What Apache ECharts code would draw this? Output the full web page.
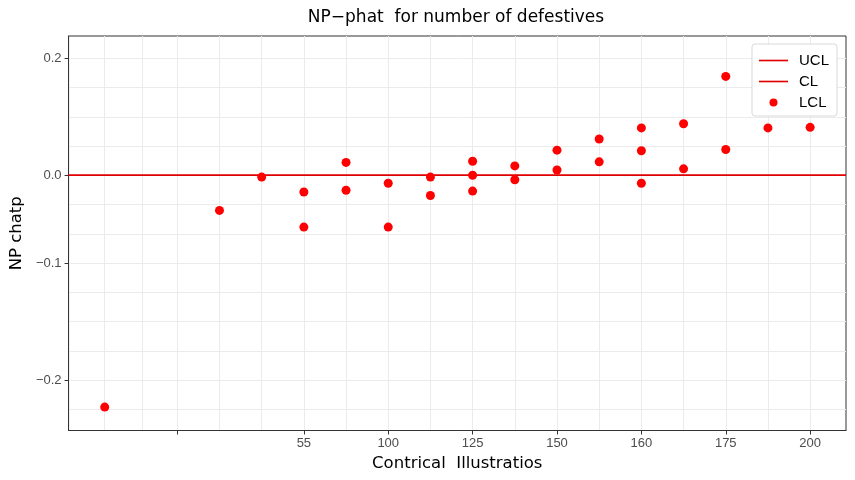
<!DOCTYPE html>
<html>
<head>
<meta charset="utf-8">
<script src="https://cdn.jsdelivr.net/npm/echarts@6/dist/echarts.min.js"></script>
<style>
html, body { margin: 0; padding: 0; background: #fff; }
#chart { width: 855px; height: 480px; }
</style>
</head>
<body>
<div id="chart"></div>
<script>
// sample position on the x scale (ordinal, tick labels below) and the plotted LCL points
var sampleAt = [-2.72, 0, 1, 2, 2, 3, 3, 4, 4, 5, 5, 6, 6, 6, 7, 7, 8, 8, 9, 9, 10, 10, 10, 11, 11, 12, 12, 13, 14];
var lclValues = [-0.223, -0.040, -0.002, -0.019, -0.059, 0.022, -0.017, -0.009, -0.059, -0.002, -0.023,
    0.024, 0.000, -0.018, 0.016, -0.005, 0.043, 0.009, 0.062, 0.023, 0.081, 0.042, -0.009,
    0.088, 0.011, 0.169, 0.044, 0.081, 0.082];
var uclValue = 0;
var clValue = 0;

var xTickAt = [-1, 2, 4, 6, 8, 10, 12, 14];
var xTickLabels = ['', '55', '100', '125', '150', '160', '175', '200'];
var xGridAt = [-2.72, -1.82, -1, 0, 1, 2, 3, 4, 5, 6, 7, 8, 9, 10, 11, 12, 13, 14];

var yTickValues = [0.2, 0, -0.1, -0.2];
var yTickLabels = ['0.2', '0.0', '\u22120.1', '\u22120.2'];

var xMin = -3.577, xMax = 14.85;
var yMin = -8.72, yMax = 4.76;

// the y axis of the picture is not evenly spaced: piecewise scale
function toAxisY(v) {
    if (v >= 0) return v * 20;
    if (v >= -0.1) return v * 30;
    return -3 + (v + 0.1) * 40;
}

var yTickAt = yTickValues.map(toAxisY);
var yGridAt = [];
for (var g = -8; g <= 4; g++) yGridAt.push(g);

function nearestLabel(v, at, labels) {
    for (var i = 0; i < at.length; i++) {
        if (Math.abs(at[i] - v) < 1e-6) return labels[i];
    }
    return '';
}

var font = 'Liberation Sans';
var titleFont = 'DejaVu Sans';
var lineIcon = 'path://M0,0L30,0L30,1.7L0,1.7Z';
var myChart = echarts.init(document.getElementById('chart'));

var option = {
    animation: false,
    backgroundColor: '#fff',
    title: {
        text: 'NP\u2212phat  for number of defestives',
        left: 456,
        top: 9,
        textAlign: 'center',
        padding: 0,
        textStyle: { fontFamily: titleFont, fontSize: 17, fontWeight: 'normal', color: '#000' }
    },
    legend: {
        orient: 'vertical',
        right: 18,
        top: 44,
        padding: [9, 8, 6, 7],
        itemWidth: 29,
        itemHeight: 8,
        itemGap: 6,
        backgroundColor: '#fff',
        borderColor: '#d9d9d9',
        borderWidth: 1,
        borderRadius: 3,
        data: [
            { name: 'UCL', icon: lineIcon },
            { name: 'CL', icon: lineIcon },
            { name: 'LCL', icon: 'circle' }
        ],
        textStyle: { fontFamily: font, fontSize: 15, color: '#000', lineHeight: 15, padding: [0, 0, 0, 6] }
    },
    grid: {
        left: 65.5,
        right: 9,
        top: 36,
        bottom: 49.5,
        show: true,
        borderColor: '#333',
        borderWidth: 1,
        backgroundColor: 'transparent'
    },
    xAxis: [{
        type: 'value',
        min: xMin,
        max: xMax,
        name: 'Contrical  Illustratios',
        nameLocation: 'middle',
        nameGap: 25,
        nameTextStyle: { fontFamily: titleFont, fontSize: 16.5, color: '#000' },
        axisLine: { show: true, onZero: false, lineStyle: { color: '#333' } },
        axisTick: { show: true, length: 4, customValues: xTickAt, lineStyle: { color: '#333' } },
        axisLabel: {
            customValues: xTickAt,
            margin: 6,
            fontFamily: font,
            fontSize: 13,
            color: '#4d4d4d',
            formatter: function (v) { return nearestLabel(v, xTickAt, xTickLabels); }
        },
        splitLine: { show: false }
    }, {
        type: 'value',
        min: xMin,
        max: xMax,
        position: 'bottom',
        axisLine: { show: false },
        axisTick: { show: false, customValues: xGridAt },
        axisLabel: { show: false, customValues: xGridAt },
        splitLine: { show: true, lineStyle: { color: '#ebebeb', width: 1 } }
    }],
    yAxis: [{
        type: 'value',
        min: yMin,
        max: yMax,
        name: 'NP chatp',
        nameLocation: 'middle',
        nameGap: 32,
        nameTextStyle: { fontFamily: titleFont, fontSize: 16.5, color: '#000' },
        axisLine: { show: true, onZero: false, lineStyle: { color: '#333' } },
        axisTick: { show: true, length: 4, customValues: yTickAt, lineStyle: { color: '#333' } },
        axisLabel: {
            customValues: yTickAt,
            margin: 7,
            fontFamily: font,
            fontSize: 13,
            color: '#4d4d4d',
            formatter: function (v) { return nearestLabel(v, yTickAt, yTickLabels); }
        },
        splitLine: { show: false }
    }, {
        type: 'value',
        min: yMin,
        max: yMax,
        position: 'left',
        axisLine: { show: false },
        axisTick: { show: false, customValues: yGridAt },
        axisLabel: { show: false, customValues: yGridAt },
        splitLine: { show: true, lineStyle: { color: '#ebebeb', width: 1 } }
    }],
    series: [{
        name: 'UCL',
        type: 'line',
        symbol: 'none',
        color: '#e00000',
        lineStyle: { color: '#e00000', width: 1.6 },
        data: [[xMin, toAxisY(uclValue)], [xMax, toAxisY(uclValue)]],
        z: 3
    }, {
        name: 'CL',
        type: 'line',
        symbol: 'none',
        color: '#e00000',
        lineStyle: { color: '#e00000', width: 1.6 },
        data: [[xMin, toAxisY(clValue)], [xMax, toAxisY(clValue)]],
        z: 3
    }, {
        name: 'LCL',
        type: 'scatter',
        symbol: 'circle',
        symbolSize: 9,
        color: '#ff0000',
        itemStyle: { color: '#ff0000', opacity: 1 },
        data: sampleAt.map(function (x, i) { return [x, toAxisY(lclValues[i])]; }),
        z: 4
    }]
};

myChart.setOption(option);
</script>
</body>
</html>
